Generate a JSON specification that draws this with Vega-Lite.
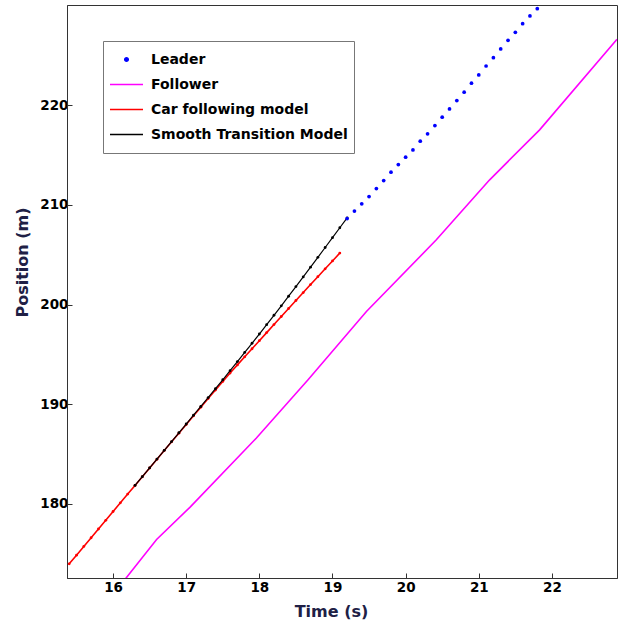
{
  "$schema": "https://vega.github.io/schema/vega-lite/v6.json",
  "width": 550,
  "height": 573,
  "autosize": {"type": "none"},
  "padding": {"left": 67, "top": 5, "right": 4, "bottom": 47},
  "background": "white",
  "datasets": {
    "follower": [
      {"series": "Follower", "t": 16.15, "pos": 172.3},
      {"series": "Follower", "t": 16.595, "pos": 176.42},
      {"series": "Follower", "t": 17.05, "pos": 179.65},
      {"series": "Follower", "t": 17.96, "pos": 186.61},
      {"series": "Follower", "t": 18.666, "pos": 192.46},
      {"series": "Follower", "t": 19.464, "pos": 199.3},
      {"series": "Follower", "t": 20.42, "pos": 206.49},
      {"series": "Follower", "t": 21.149, "pos": 212.51},
      {"series": "Follower", "t": 21.832, "pos": 217.52},
      {"series": "Follower", "t": 22.89, "pos": 226.6}
    ],
    "car": [
      {"series": "Car following model", "t": 15.4, "pos": 173.98},
      {"series": "Car following model", "t": 15.5, "pos": 174.85},
      {"series": "Car following model", "t": 15.6, "pos": 175.73},
      {"series": "Car following model", "t": 15.7, "pos": 176.6},
      {"series": "Car following model", "t": 15.8, "pos": 177.48},
      {"series": "Car following model", "t": 15.9, "pos": 178.35},
      {"series": "Car following model", "t": 16.0, "pos": 179.23},
      {"series": "Car following model", "t": 16.1, "pos": 180.1},
      {"series": "Car following model", "t": 16.2, "pos": 180.98},
      {"series": "Car following model", "t": 16.3, "pos": 181.85},
      {"series": "Car following model", "t": 16.4, "pos": 182.72},
      {"series": "Car following model", "t": 16.5, "pos": 183.6},
      {"series": "Car following model", "t": 16.6, "pos": 184.47},
      {"series": "Car following model", "t": 16.7, "pos": 185.35},
      {"series": "Car following model", "t": 16.8, "pos": 186.22},
      {"series": "Car following model", "t": 16.9, "pos": 187.09},
      {"series": "Car following model", "t": 17.0, "pos": 187.96},
      {"series": "Car following model", "t": 17.1, "pos": 188.83},
      {"series": "Car following model", "t": 17.2, "pos": 189.7},
      {"series": "Car following model", "t": 17.3, "pos": 190.56},
      {"series": "Car following model", "t": 17.4, "pos": 191.42},
      {"series": "Car following model", "t": 17.5, "pos": 192.28},
      {"series": "Car following model", "t": 17.6, "pos": 193.13},
      {"series": "Car following model", "t": 17.7, "pos": 193.94},
      {"series": "Car following model", "t": 17.8, "pos": 194.75},
      {"series": "Car following model", "t": 17.9, "pos": 195.56},
      {"series": "Car following model", "t": 18.0, "pos": 196.37},
      {"series": "Car following model", "t": 18.1, "pos": 197.18},
      {"series": "Car following model", "t": 18.2, "pos": 197.99},
      {"series": "Car following model", "t": 18.3, "pos": 198.8},
      {"series": "Car following model", "t": 18.4, "pos": 199.6},
      {"series": "Car following model", "t": 18.5, "pos": 200.4},
      {"series": "Car following model", "t": 18.6, "pos": 201.2},
      {"series": "Car following model", "t": 18.7, "pos": 202.0},
      {"series": "Car following model", "t": 18.8, "pos": 202.79},
      {"series": "Car following model", "t": 18.9, "pos": 203.58},
      {"series": "Car following model", "t": 19.0, "pos": 204.37},
      {"series": "Car following model", "t": 19.1, "pos": 205.16}
    ],
    "smooth": [
      {"series": "Smooth Transition Model", "t": 16.3, "pos": 181.85},
      {"series": "Smooth Transition Model", "t": 16.4, "pos": 182.73},
      {"series": "Smooth Transition Model", "t": 16.5, "pos": 183.61},
      {"series": "Smooth Transition Model", "t": 16.6, "pos": 184.49},
      {"series": "Smooth Transition Model", "t": 16.7, "pos": 185.37},
      {"series": "Smooth Transition Model", "t": 16.8, "pos": 186.25},
      {"series": "Smooth Transition Model", "t": 16.9, "pos": 187.13},
      {"series": "Smooth Transition Model", "t": 17.0, "pos": 188.01},
      {"series": "Smooth Transition Model", "t": 17.1, "pos": 188.89},
      {"series": "Smooth Transition Model", "t": 17.2, "pos": 189.77},
      {"series": "Smooth Transition Model", "t": 17.3, "pos": 190.66},
      {"series": "Smooth Transition Model", "t": 17.4, "pos": 191.55},
      {"series": "Smooth Transition Model", "t": 17.5, "pos": 192.45},
      {"series": "Smooth Transition Model", "t": 17.6, "pos": 193.36},
      {"series": "Smooth Transition Model", "t": 17.7, "pos": 194.27},
      {"series": "Smooth Transition Model", "t": 17.8, "pos": 195.19},
      {"series": "Smooth Transition Model", "t": 17.9, "pos": 196.11},
      {"series": "Smooth Transition Model", "t": 18.0, "pos": 197.04},
      {"series": "Smooth Transition Model", "t": 18.1, "pos": 197.98},
      {"series": "Smooth Transition Model", "t": 18.2, "pos": 198.92},
      {"series": "Smooth Transition Model", "t": 18.3, "pos": 199.87},
      {"series": "Smooth Transition Model", "t": 18.4, "pos": 200.83},
      {"series": "Smooth Transition Model", "t": 18.5, "pos": 201.8},
      {"series": "Smooth Transition Model", "t": 18.6, "pos": 202.77},
      {"series": "Smooth Transition Model", "t": 18.7, "pos": 203.75},
      {"series": "Smooth Transition Model", "t": 18.8, "pos": 204.73},
      {"series": "Smooth Transition Model", "t": 18.9, "pos": 205.72},
      {"series": "Smooth Transition Model", "t": 19.0, "pos": 206.71},
      {"series": "Smooth Transition Model", "t": 19.1, "pos": 207.7},
      {"series": "Smooth Transition Model", "t": 19.2, "pos": 208.69}
    ],
    "leader": [
      {"series": "Leader", "t": 19.2, "pos": 208.62},
      {"series": "Leader", "t": 19.3, "pos": 209.37},
      {"series": "Leader", "t": 19.4, "pos": 210.1},
      {"series": "Leader", "t": 19.5, "pos": 210.83},
      {"series": "Leader", "t": 19.6, "pos": 211.63},
      {"series": "Leader", "t": 19.7, "pos": 212.44},
      {"series": "Leader", "t": 19.8, "pos": 213.28},
      {"series": "Leader", "t": 19.9, "pos": 214.04},
      {"series": "Leader", "t": 20.0, "pos": 214.78},
      {"series": "Leader", "t": 20.1, "pos": 215.51},
      {"series": "Leader", "t": 20.2, "pos": 216.39},
      {"series": "Leader", "t": 20.3, "pos": 217.12},
      {"series": "Leader", "t": 20.4, "pos": 217.95},
      {"series": "Leader", "t": 20.5, "pos": 218.79},
      {"series": "Leader", "t": 20.6, "pos": 219.62},
      {"series": "Leader", "t": 20.7, "pos": 220.46},
      {"series": "Leader", "t": 20.8, "pos": 221.3},
      {"series": "Leader", "t": 20.9, "pos": 222.2},
      {"series": "Leader", "t": 21.0, "pos": 223.03},
      {"series": "Leader", "t": 21.1, "pos": 223.93},
      {"series": "Leader", "t": 21.2, "pos": 224.77},
      {"series": "Leader", "t": 21.3, "pos": 225.64},
      {"series": "Leader", "t": 21.4, "pos": 226.51},
      {"series": "Leader", "t": 21.5, "pos": 227.31},
      {"series": "Leader", "t": 21.6, "pos": 228.18},
      {"series": "Leader", "t": 21.7, "pos": 228.95},
      {"series": "Leader", "t": 21.8, "pos": 229.68}
    ]
  },
  "config": {
    "font": "DejaVu Sans",
    "view": {"stroke": "#333333", "strokeWidth": 1},
    "axis": {
      "grid": false,
      "labelFont": "DejaVu Sans",
      "labelFontWeight": "bold",
      "labelFontSize": 13.5,
      "labelColor": "#000000",
      "titleFont": "DejaVu Sans",
      "titleFontWeight": "bold",
      "titleFontSize": 16,
      "titleColor": "#202045",
      "tickColor": "#333333",
      "domainColor": "#333333",
      "tickSize": -5,
      "labelPadding": 4
    }
  },
  "layer": [
    {
      "data": {"name": "follower"},
      "mark": {"type": "line", "strokeWidth": 1.6, "clip": true},
      "encoding": {
        "x": {"field": "t", "type": "quantitative", "scale": {"domain": [15.37, 22.89], "nice": false, "zero": false}, "axis": {"orient": "bottom", "title": "Time (s)", "format": "d", "values": [16, 17, 18, 19, 20, 21, 22], "labelPadding": 7, "titlePadding": 10, "titleX": 264}},
        "y": {"field": "pos", "type": "quantitative", "scale": {"domain": [172.56, 230.05], "nice": false, "zero": false}, "axis": {"orient": "left", "title": "Position (m)", "format": "d", "values": [180, 190, 200, 210, 220], "labelPadding": 4, "titleY": 257, "titleX": -37}},
        "color": {
          "field": "series",
          "type": "nominal",
          "scale": {
            "domain": ["Leader", "Follower", "Car following model", "Smooth Transition Model"],
            "range": ["#0000ff", "#ff00ff", "#ff0000", "#000000"]
          },
          "legend": {
            "orient": "none",
            "legendX": 36,
            "legendY": 36,
            "title": null,
            "padding": 6,
            "strokeColor": "#777777",
            "fillColor": "white",
            "labelFont": "DejaVu Sans",
            "labelFontWeight": "bold",
            "labelFontSize": 14,
            "labelColor": "#000000",
            "labelOffset": 7,
            "labelLimit": 400,
            "symbolSize": 1089,
            "symbolType": "stroke",
            "symbolStrokeWidth": 1.6,
            "clipHeight": 25,
            "rowPadding": 0,
            "encode": {
              "symbols": {
                "update": {
                  "shape": {"signal": "datum.value === 'Leader' ? 'circle' : 'stroke'"},
                  "size": {"signal": "datum.value === 'Leader' ? 12 : 1089"},
                  "fill": {"signal": "datum.value === 'Leader' ? '#0000ff' : 'transparent'"}
                }
              }
            }
          }
        }
      }
    },
    {
      "data": {"name": "car"},
      "mark": {"type": "line", "strokeWidth": 1.6, "clip": true, "point": {"filled": true, "size": 8}},
      "encoding": {
        "x": {"field": "t", "type": "quantitative"},
        "y": {"field": "pos", "type": "quantitative"},
        "color": {"field": "series", "type": "nominal"}
      }
    },
    {
      "data": {"name": "smooth"},
      "mark": {"type": "line", "strokeWidth": 1.2, "clip": true, "point": {"filled": true, "size": 8}},
      "encoding": {
        "x": {"field": "t", "type": "quantitative"},
        "y": {"field": "pos", "type": "quantitative"},
        "color": {"field": "series", "type": "nominal"}
      }
    },
    {
      "data": {"name": "leader"},
      "mark": {"type": "point", "filled": true, "size": 14, "opacity": 1, "clip": true},
      "encoding": {
        "x": {"field": "t", "type": "quantitative"},
        "y": {"field": "pos", "type": "quantitative"},
        "color": {"field": "series", "type": "nominal"}
      }
    }
  ]
}
